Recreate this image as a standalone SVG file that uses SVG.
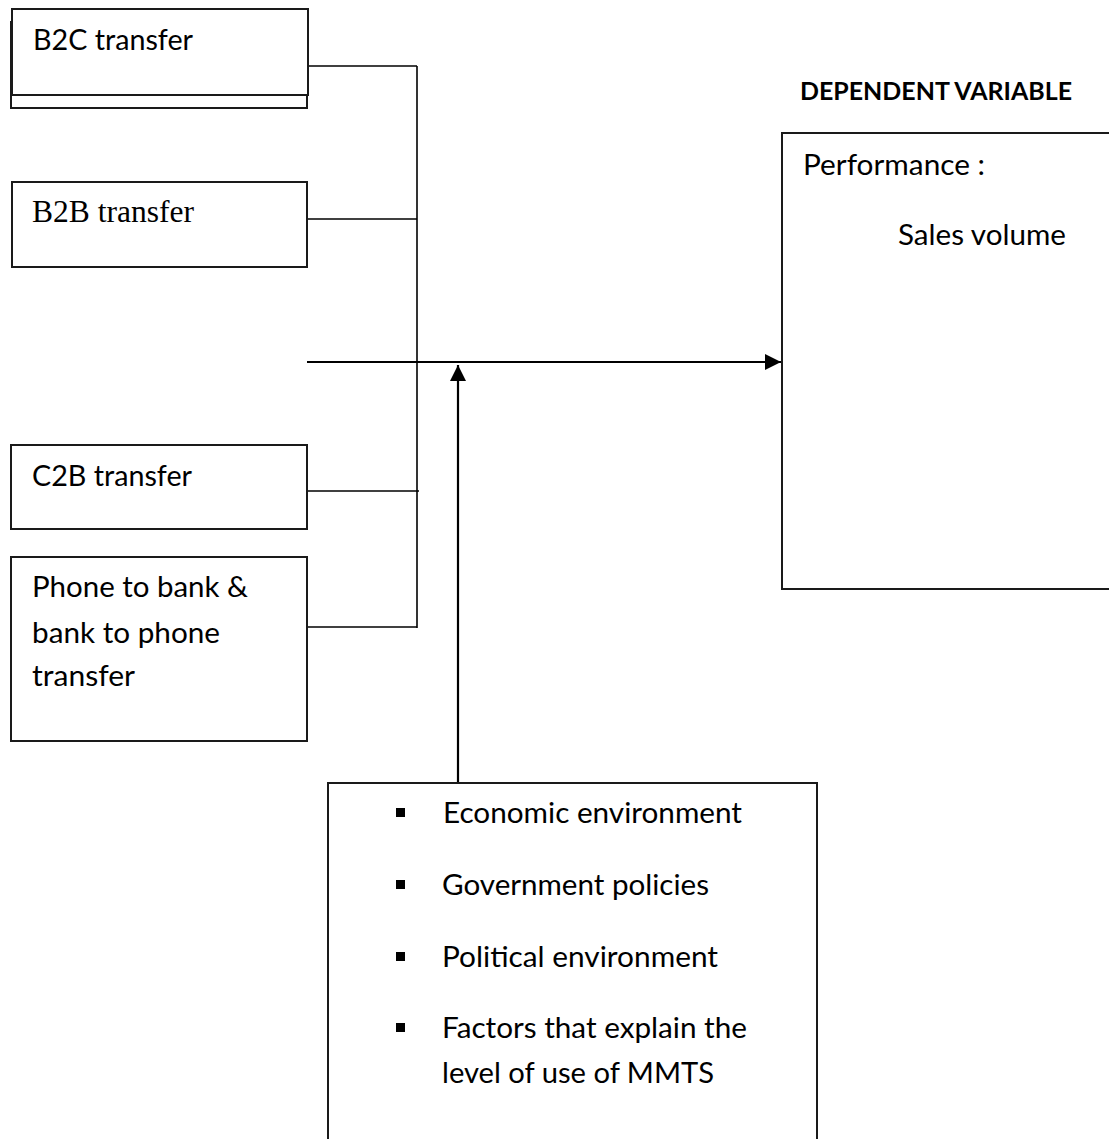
<svg xmlns="http://www.w3.org/2000/svg" width="1109" height="1139" viewBox="0 0 1109 1139">
  <style>
    .box { fill: #ffffff; stroke: #1a1a1a; stroke-width: 2; }
    .conn { fill: none; stroke: #000000; stroke-width: 1.6; }
    .main { fill: none; stroke: #000000; stroke-width: 2.2; }
    .t { font-family: Lato, "Open Sans", "Liberation Sans", sans-serif; font-size: 28px; fill: #000000; }
    .ts { font-family: "Liberation Serif", "Times New Roman", serif; font-size: 31px; fill: #000000; }
    .tb { font-family: Lato, "Liberation Sans", sans-serif; font-size: 25px; font-weight: bold; fill: #000000; }
    .bullet { fill: #000000; }
  </style>
  <defs>
    <marker id="arrow" viewBox="0 0 16 16" refX="16" refY="8" markerWidth="16" markerHeight="16" markerUnits="userSpaceOnUse" orient="auto">
      <path d="M0,0 L16,8 L0,16 Z" fill="#000000"/>
    </marker>
  </defs>
  <rect width="1109" height="1139" fill="#ffffff"/>

  <g id="connectors">
    <line class="conn" x1="308" y1="66" x2="417" y2="66"/>
    <line class="conn" x1="417" y1="66" x2="417" y2="628"/>
    <line class="conn" x1="307" y1="219" x2="417" y2="219"/>
    <line class="conn" x1="307" y1="491" x2="419" y2="491"/>
    <line class="conn" x1="306" y1="627" x2="417" y2="627"/>
    <line class="main" x1="307" y1="362" x2="781" y2="362" marker-end="url(#arrow)"/>
    <line class="main" x1="458" y1="783" x2="458" y2="365" marker-end="url(#arrow)"/>
  </g>

  <g id="node-b2c">
    <rect class="box" x="11" y="22" width="296" height="86"/>
    <rect class="box" x="12" y="9" width="296" height="86"/>
    <text class="t" x="33" y="50" textLength="160" lengthAdjust="spacingAndGlyphs">B2C transfer</text>
  </g>

  <g id="node-b2b">
    <rect class="box" x="12" y="182" width="295" height="85"/>
    <text class="ts" x="32" y="222" textLength="162" lengthAdjust="spacingAndGlyphs">B2B transfer</text>
  </g>

  <g id="node-c2b">
    <rect class="box" x="11" y="445" width="296" height="84"/>
    <text class="t" x="32" y="486" textLength="160" lengthAdjust="spacingAndGlyphs">C2B transfer</text>
  </g>

  <g id="node-phone">
    <rect class="box" x="11" y="557" width="296" height="184"/>
    <text class="t" x="32" y="597" textLength="216" lengthAdjust="spacingAndGlyphs">Phone to bank &amp;</text>
    <text class="t" x="32" y="643" textLength="188" lengthAdjust="spacingAndGlyphs">bank to phone</text>
    <text class="t" x="32" y="686" textLength="103" lengthAdjust="spacingAndGlyphs">transfer</text>
  </g>

  <g id="label-dependent">
    <text class="tb" x="800" y="100" textLength="272" lengthAdjust="spacingAndGlyphs">DEPENDENT VARIABLE</text>
  </g>

  <g id="node-performance">
    <rect class="box" x="782" y="133" width="340" height="456"/>
    <text class="t" x="803" y="175" textLength="182" lengthAdjust="spacingAndGlyphs">Performance :</text>
    <text class="t" x="898" y="245" textLength="168" lengthAdjust="spacingAndGlyphs">Sales volume</text>
  </g>

  <g id="node-factors">
    <rect class="box" x="328" y="783" width="489" height="400"/>
    <rect class="bullet" x="396" y="808" width="9" height="9"/>
    <text class="t" x="443" y="823" textLength="299" lengthAdjust="spacingAndGlyphs">Economic environment</text>
    <rect class="bullet" x="396" y="880" width="9" height="9"/>
    <text class="t" x="442" y="895" textLength="267" lengthAdjust="spacingAndGlyphs">Government policies</text>
    <rect class="bullet" x="396" y="952" width="9" height="9"/>
    <text class="t" x="442" y="967" textLength="276" lengthAdjust="spacingAndGlyphs">Political environment</text>
    <rect class="bullet" x="396" y="1023" width="9" height="9"/>
    <text class="t" x="442" y="1038" textLength="305" lengthAdjust="spacingAndGlyphs">Factors that explain the</text>
    <text class="t" x="442" y="1083" textLength="272" lengthAdjust="spacingAndGlyphs">level of use of MMTS</text>
  </g>
</svg>
